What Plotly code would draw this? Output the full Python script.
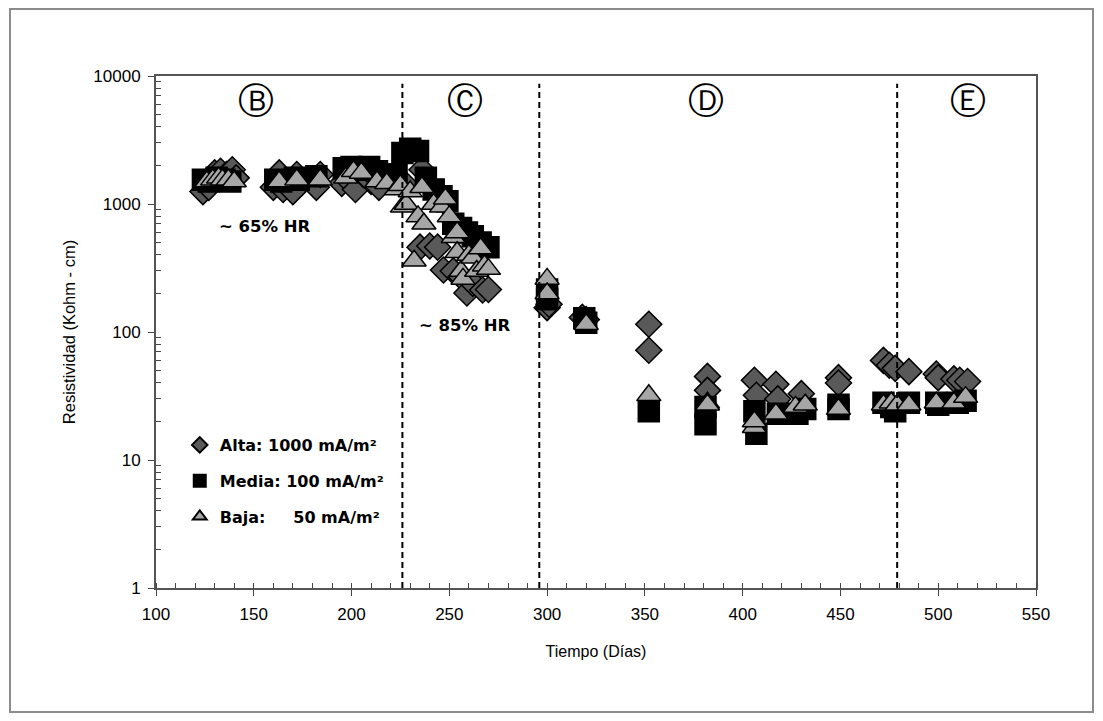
import plotly.graph_objects as go

# ---- data ----
alta_dias = [124, 127, 130, 133, 136, 139, 141,
             160, 163, 165, 170, 172, 182, 184,
             195, 199, 202, 206, 210, 214,
             222, 228, 236, 235, 240, 244, 247, 252, 256, 259, 262, 267, 270,
             300, 301, 318, 320, 352, 352,
             382, 382, 406, 407, 417, 418, 430, 449, 449,
             472, 475, 478, 485, 499, 500, 508, 511, 515]
alta_res = [1250, 1350, 1750, 1800, 1700, 1850, 1600,
            1350, 1750, 1300, 1250, 1700, 1350, 1700,
            1450, 1500, 1300, 1700, 1500, 1350,
            1500, 1400, 1850, 460, 470, 460, 305, 300, 270, 202, 240, 213, 215,
            155, 165, 130, 125, 115, 72,
            45, 35, 42, 32, 39, 30, 33, 44, 40,
            60, 55, 52, 49, 47, 44, 43, 42, 41]

media_dias = [124, 127, 131, 135, 138,
              161, 164, 171, 173, 182,
              196, 200, 205, 209, 213, 217,
              223, 226, 230, 234, 238, 242, 246, 249, 252, 256, 259, 262, 266, 270,
              300, 300, 319, 320, 352,
              381, 381, 406, 407, 418, 428, 432, 449, 449,
              472, 476, 478, 485, 499, 500, 510, 514]
media_res = [1550, 1500, 1600, 1550, 1500,
             1550, 1500, 1600, 1550, 1650,
             1900, 1950, 1850, 1950, 1800, 1700,
             1700, 2500, 2700, 2600, 1600, 1300, 1150, 1050, 700, 650, 600, 560, 500, 460,
             180, 215, 128, 118, 24,
             26, 19, 24, 16, 23, 23, 25, 27, 25,
             28, 26, 24, 28, 28, 27, 28, 29]

baja_dias = [126, 129, 132, 134, 137, 140,
             163, 172, 184,
             197, 201, 205, 213, 218,
             223, 225, 226, 228, 230, 232, 234, 236, 237, 242, 246, 248, 250,
             252, 254, 254, 256, 257, 260, 262, 264, 266, 268, 270,
             300, 300, 320, 352,
             382, 382, 406, 406, 417, 427, 432, 449,
             472, 476, 479, 485, 499, 508, 514]
baja_res = [1500, 1550, 1600, 1550, 1550, 1500,
            1500, 1550, 1550,
            1600, 1800, 1750, 1500, 1450,
            1300, 1400, 950, 1000, 1250, 360, 800, 1350, 700, 1000, 950, 1100, 800,
            550, 600, 420, 300, 260, 400, 380, 300, 450, 330, 310,
            260, 200, 115, 32,
            28, 27, 18, 20, 23, 26, 27, 25,
            27, 28, 27, 27, 28, 28, 31]

etapas = ["\u24b7", "\u24b8", "\u24b9", "\u24ba"]
etapas_x = [151, 258, 381, 515]
limites = [226, 296, 479]

x_ticks = [100, 150, 200, 250, 300, 350, 400, 450, 500, 550]
y_ticks = [1, 10, 100, 1000, 10000]
y_ticktext = ["1", "10", "100", "1000", "10000"]
y_minor = [m * 10 ** e for e in range(4) for m in range(2, 10)]

FONT = "Liberation Sans, Arial, sans-serif"
BOLD = "DejaVu Sans, Verdana, sans-serif"

fig = go.Figure()
fig.add_trace(go.Scatter(
    x=alta_dias, y=alta_res, mode="markers", name="<b>Alta: 1000 mA/m\u00b2</b>",
    legendgroup="a",
    marker=dict(symbol="diamond", size=20, color="#595959",
                line=dict(color="#000000", width=1.5))))
fig.add_trace(go.Scatter(
    x=media_dias, y=media_res, mode="markers", name="<b>Media: 100 mA/m\u00b2</b>",
    legendgroup="m",
    marker=dict(symbol="square", size=21, color="#000000",
                line=dict(color="#000000", width=1.5))))
fig.add_trace(go.Scatter(
    x=baja_dias, y=baja_res, mode="markers",
    name="<b>Baja:\u00a0\u00a0\u00a0\u00a0\u00a050 mA/m\u00b2</b>",
    legendgroup="b",
    marker=dict(symbol="triangle-up", size=21, color="#a6a6a6",
                line=dict(color="#000000", width=1.5))))

shapes = []
for xv in limites:
    shapes.append(dict(type="line", xref="x", yref="paper", x0=xv, x1=xv, y0=0, y1=0.985,
                       line=dict(color="#000000", width=2, dash="6px,4px")))
# outer frame
shapes.append(dict(type="rect", xref="paper", yref="paper",
                   x0=(10 - 156) / 880, x1=(1093 - 156) / 880,
                   y0=(588 - 712) / 512, y1=(588 - 9) / 512,
                   line=dict(color="#8c8c8c", width=2), fillcolor="rgba(0,0,0,0)", layer="below"))

annotations = []
for lab, xv in zip(etapas, etapas_x):
    annotations.append(dict(x=xv, y=(588 - 78) / 512, xref="x", yref="paper", text=lab,
                            showarrow=False, font=dict(family="DejaVu Sans", size=36, color="#000")))
annotations.append(dict(x=155.7, y=(588 - 215) / 512, xref="x", yref="paper",
                        text="<b>~ 65% HR</b>", showarrow=False,
                        font=dict(family=BOLD, size=16.5, color="#000")))
annotations.append(dict(x=258, y=(588 - 325) / 512, xref="x", yref="paper",
                        text="<b>~ 85% HR</b>", showarrow=False,
                        font=dict(family=BOLD, size=16.5, color="#000")))

fig.update_layout(
    width=1103, height=721,
    margin=dict(l=148, r=75, t=68, b=141, autoexpand=False),
    paper_bgcolor="white", plot_bgcolor="white",
    font=dict(family=FONT, size=16, color="#000"),
    shapes=shapes, annotations=annotations,
    showlegend=True,
    legend=dict(x=0.027, y=(588 - 428) / 512, xanchor="left", yanchor="top",
                bgcolor="rgba(0,0,0,0)", font=dict(family=BOLD, size=16, color="#000"),
                tracegroupgap=12, itemsizing="constant"),
    xaxis=dict(range=[100, 550], tickvals=x_ticks, showgrid=False, zeroline=False,
               automargin=False,
               showline=True, linecolor="#555555", linewidth=2, mirror=True,
               ticks="outside", ticklen=6, tickcolor="#444", tickwidth=1,
               ticklabelstandoff=4,
               minor=dict(ticks="inside", dtick=10, ticklen=5, tickcolor="#444", showgrid=False),
               title=dict(text="Tiempo (D\u00edas)", font=dict(size=16), standoff=22),
               tickfont=dict(size=17)),
    yaxis=dict(type="log", range=[0, 4], tickvals=y_ticks, ticktext=y_ticktext,
               showgrid=False, zeroline=False, automargin=False,
               showline=True, linecolor="#555555", linewidth=2, mirror=True,
               ticks="outside", ticklen=6, tickcolor="#444", tickwidth=1,
               ticklabelstandoff=4,
               minor=dict(ticks="inside", tickvals=y_minor, ticklen=5, tickcolor="#444",
                          showgrid=False),
               title=dict(text="Resistividad (Kohm - cm)", font=dict(size=16.5), standoff=14),
               tickfont=dict(size=17)),
)

fig.write_html("out.html")
